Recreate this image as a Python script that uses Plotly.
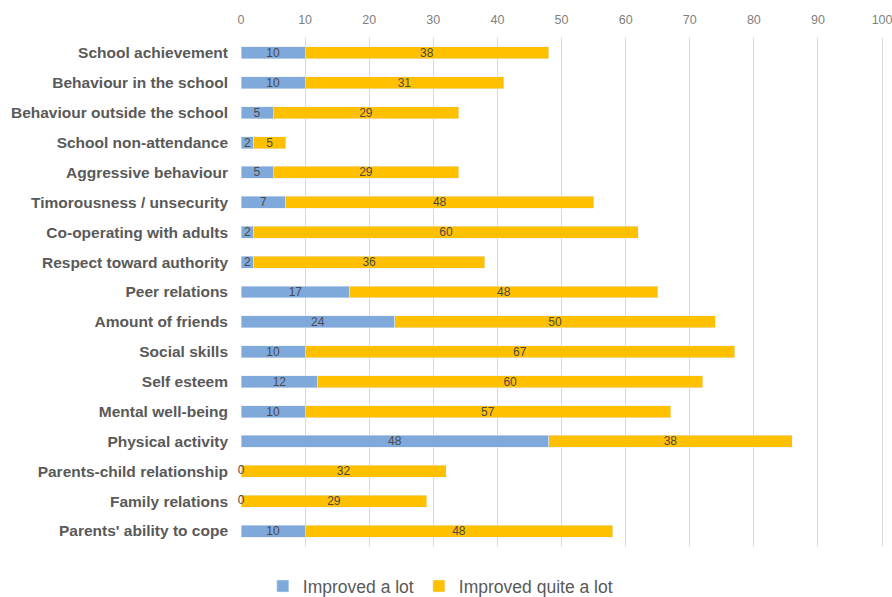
import plotly.graph_objects as go

categories = [
    "School achievement",
    "Behaviour in the school",
    "Behaviour outside the school",
    "School non-attendance",
    "Aggressive behaviour",
    "Timorousness / unsecurity",
    "Co-operating with adults",
    "Respect toward authority",
    "Peer relations",
    "Amount of friends",
    "Social skills",
    "Self esteem",
    "Mental well-being",
    "Physical activity",
    "Parents-child relationship",
    "Family relations",
    "Parents' ability to cope",
]
improved_a_lot = [10, 10, 5, 2, 5, 7, 2, 2, 17, 24, 10, 12, 10, 48, 0, 0, 10]
improved_quite_a_lot = [38, 31, 29, 5, 29, 48, 60, 36, 48, 50, 67, 60, 57, 38, 32, 29, 48]
x_ticks = list(range(0, 101, 10))

BLUE = "#7EA9DA"
GOLD = "#FFC000"
LABEL_FONT = dict(family="Liberation Sans, Arial", size=12, color="#4A4A4A")

fig = go.Figure()
fig.add_trace(go.Bar(
    y=categories, x=improved_a_lot, orientation="h", name="Improved a lot",
    marker_color=BLUE, text=improved_a_lot, textposition="inside",
    insidetextanchor="middle", constraintext="none", textangle=0,
    textfont=LABEL_FONT, cliponaxis=False,
))
fig.add_trace(go.Bar(
    y=categories, x=improved_quite_a_lot, orientation="h", name="Improved quite a lot",
    marker_color=GOLD, text=improved_quite_a_lot, textposition="inside",
    insidetextanchor="middle", constraintext="none", textangle=0,
    textfont=LABEL_FONT, cliponaxis=False,
))

# zero-length segments still carry a value label at the axis origin
zero_cats = [c for c, v in zip(categories, improved_a_lot) if v == 0]
zero_vals = [v for v in improved_a_lot if v == 0]
fig.add_trace(go.Scatter(
    y=zero_cats, x=zero_vals, mode="text", text=[str(v) for v in zero_vals],
    textposition="middle center", textfont=LABEL_FONT, showlegend=False,
    hoverinfo="skip", cliponaxis=False,
))

fig.update_layout(
    barmode="stack",
    bargap=0.6,
    width=892,
    height=597,
    margin=dict(l=241, r=8, t=38, b=51, autoexpand=False),
    paper_bgcolor="white",
    plot_bgcolor="white",
    font=dict(family="Liberation Sans, Arial", color="#595959"),
    xaxis=dict(
        side="top", range=[0, 100.3], tickvals=x_ticks, showgrid=True,
        gridcolor="#D9D9D9", gridwidth=1, zeroline=False, showline=False,
        tickfont=dict(family="Liberation Sans, Arial", size=12.5, color="#808080"),
        ticklabelstandoff=11, ticklabeloverflow="allow", automargin=False,
    ),
    yaxis=dict(
        autorange="reversed", showgrid=False, showline=False, zeroline=False,
        tickfont=dict(family="Liberation Sans, Arial", size=15.5, color="#595959", weight="bold"),
        ticklabelstandoff=12, automargin=False,
    ),
    legend=dict(
        orientation="h", x=0.31, xanchor="center",
        y=-0.079, yanchor="middle", traceorder="normal", itemwidth=30,
        font=dict(family="Liberation Sans, Arial", size=17.5, color="#595959"),
    ),
)

fig.write_html("out.html")
